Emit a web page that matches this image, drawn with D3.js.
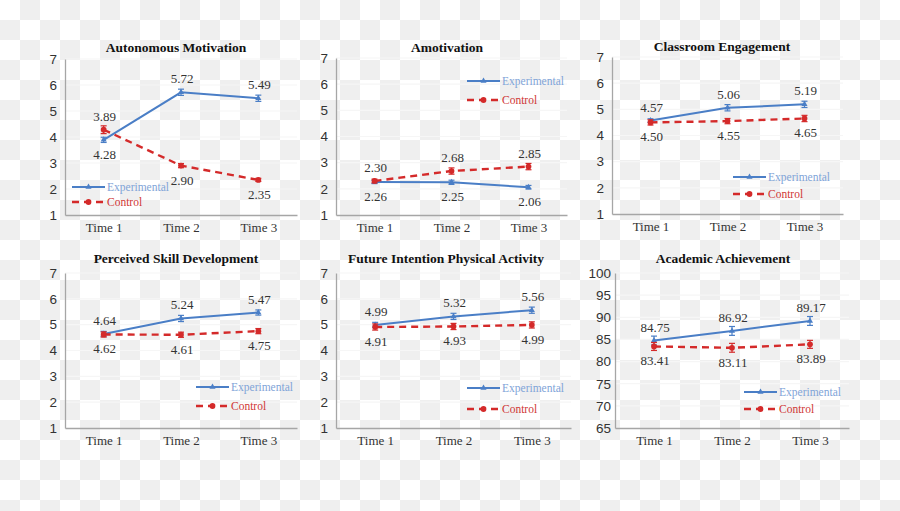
<!DOCTYPE html>
<html><head><meta charset="utf-8">
<script src="https://cdn.jsdelivr.net/npm/d3@7/dist/d3.min.js"></script>
<style>html,body{margin:0;padding:0;background:#fff;}svg{display:block;}</style>
</head><body>
<svg id="chart" width="900" height="511"></svg>
<script>
// ---------- DATA ----------
const times = ["Time 1", "Time 2", "Time 3"];
const seriesNames = ["Experimental", "Control"];
const titles = ["Autonomous Motivation", "Amotivation", "Classroom Engagement",
  "Perceived Skill Development", "Future Intention Physical Activity", "Academic Achievement"];
const experimental = [
  [3.89, 5.72, 5.49],
  [2.26, 2.25, 2.06],
  [4.57, 5.06, 5.19],
  [4.64, 5.24, 5.47],
  [4.99, 5.32, 5.56],
  [84.75, 86.92, 89.17]
];
const control = [
  [4.28, 2.90, 2.35],
  [2.30, 2.68, 2.85],
  [4.50, 4.55, 4.65],
  [4.62, 4.61, 4.75],
  [4.91, 4.93, 4.99],
  [83.41, 83.11, 83.89]
];
const experimentalErr = [
  [0.10, 0.12, 0.12],
  [0.06, 0.08, 0.07],
  [0.07, 0.12, 0.12],
  [0.10, 0.12, 0.10],
  [0.10, 0.12, 0.12],
  [1.0, 1.0, 1.0]
];
const controlErr = [
  [0.15, 0.08, 0.06],
  [0.07, 0.12, 0.12],
  [0.10, 0.10, 0.12],
  [0.10, 0.10, 0.10],
  [0.12, 0.12, 0.12],
  [0.9, 1.0, 0.9]
];
const yDomains = [[1, 7], [1, 7], [1, 7], [1, 7], [1, 7], [65, 100]];
const yTicks = [
  [1, 2, 3, 4, 5, 6, 7], [1, 2, 3, 4, 5, 6, 7], [1, 2, 3, 4, 5, 6, 7],
  [1, 2, 3, 4, 5, 6, 7], [1, 2, 3, 4, 5, 6, 7], [65, 70, 75, 80, 85, 90, 95, 100]
];
// which series' label sits on top at each time point (as printed in the original)
const topLabelSeries = ["Experimental", "Control", "Experimental", "Experimental", "Experimental", "Experimental"];

// ---------- LAYOUT (pixel positions) ----------
const layout = [
  {x0: 65, x1: 297, yT: 59, yB: 215, tx: 176, ty: 52, lx: 72, ly1: 187, ly2: 202, gap: 8},
  {x0: 336, x1: 567, yT: 58, yB: 215, tx: 447, ty: 52, lx: 467, ly1: 81, ly2: 100, gap: 8},
  {x0: 612, x1: 843, yT: 57, yB: 214, tx: 722, ty: 51, lx: 733, ly1: 177, ly2: 194, gap: 8},
  {x0: 65, x1: 297, yT: 273, yB: 428, tx: 176, ty: 263, lx: 196, ly1: 387, ly2: 406, gap: 8},
  {x0: 336, x1: 571, yT: 273, yB: 428, tx: 446, ty: 263, lx: 467, ly1: 388, ly2: 409, gap: 8},
  {x0: 615, x1: 849, yT: 273, yB: 428, tx: 723, ty: 263, lx: 744, ly1: 392, ly2: 409, gap: 4}
];

const blue = "#4a7ec6", blueText = "#7fa4d8";
const red = "#d42a2a", redText = "#d03636";
const serif = "'Liberation Serif','Times New Roman',serif";
const sans = "'Liberation Sans',Arial,sans-serif";

const svg = d3.select("#chart");

// checkerboard background (transparent-image look)
const defs = svg.append("defs");
const pat = defs.append("pattern").attr("id", "chk").attr("width", 40).attr("height", 40)
  .attr("patternUnits", "userSpaceOnUse");
pat.append("rect").attr("width", 40).attr("height", 40).attr("fill", "#ffffff");
pat.append("rect").attr("x", 20).attr("y", 0).attr("width", 20).attr("height", 20).attr("fill", "#efefef");
pat.append("rect").attr("x", 0).attr("y", 20).attr("width", 20).attr("height", 20).attr("fill", "#efefef");
svg.append("rect").attr("width", 900).attr("height", 511).attr("fill", "url(#chk)");

const triangle = d3.symbol().type(d3.symbolTriangle).size(16);
const circle = d3.symbol().type(d3.symbolCircle).size(26);

titles.forEach((title, i) => {
  const L = layout[i];
  const g = svg.append("g");
  const x = d3.scalePoint().domain(times).range([L.x0, L.x1]).padding(0.5);
  const y = d3.scaleLinear().domain(yDomains[i]).range([L.yB, L.yT]);

  // gridlines
  g.selectAll(".grid").data(yTicks[i].slice(1)).join("line")
    .attr("x1", L.x0).attr("x2", L.x1)
    .attr("y1", d => y(d)).attr("y2", d => y(d))
    .attr("stroke", "#f6f6f6").attr("stroke-width", 1.2);

  // y axis
  const ya = g.append("g").attr("transform", `translate(${L.x0},0)`)
    .call(d3.axisLeft(y).tickValues(yTicks[i]).tickSize(0).tickPadding(L.gap).tickFormat(d3.format("d")));
  ya.select(".domain").attr("stroke", "#a6a6a6").attr("stroke-width", 1.3);
  ya.selectAll("text").attr("font-family", sans).attr("font-size", 13.5).attr("fill", "#333");

  // x axis
  const xa = g.append("g").attr("transform", `translate(0,${L.yB})`)
    .call(d3.axisBottom(x).tickSize(0).tickPadding(8));
  xa.select(".domain").attr("stroke", "#a6a6a6").attr("stroke-width", 1.3);
  xa.selectAll("text").attr("font-family", serif).attr("font-size", 13).attr("fill", "#333");

  // title
  g.append("text").attr("x", L.tx).attr("y", L.ty).attr("text-anchor", "middle")
    .attr("font-family", serif).attr("font-weight", "bold").attr("font-size", 13.5)
    .attr("fill", "#111").text(title);

  const series = [
    {name: "Experimental", vals: experimental[i], err: experimentalErr[i], color: blue, dash: null, sym: triangle},
    {name: "Control", vals: control[i], err: controlErr[i], color: red, dash: "7,5", sym: circle}
  ];

  const line = d3.line().x((d, k) => x(times[k])).y(d => y(d));
  series.forEach(s => {
    g.append("path").datum(s.vals).attr("d", line).attr("fill", "none")
      .attr("stroke", s.color).attr("stroke-width", s.dash ? 2.4 : 2)
      .attr("stroke-dasharray", s.dash);
    const eb = g.append("g");
    s.vals.forEach((v, k) => {
      const cx = x(times[k]);
      const e = s.err[k];
      eb.append("line").attr("x1", cx).attr("x2", cx).attr("y1", y(v - e)).attr("y2", y(v + e))
        .attr("stroke", s.color).attr("stroke-width", 1.2);
      [v - e, v + e].forEach(c => eb.append("line").attr("x1", cx - 3).attr("x2", cx + 3)
        .attr("y1", y(c)).attr("y2", y(c)).attr("stroke", s.color).attr("stroke-width", 1.2));
      eb.append("path").attr("d", s.sym).attr("transform", `translate(${cx},${y(v)})`)
        .attr("fill", s.color);
    });
  });

  // value labels
  times.forEach((t, k) => {
    const ev = experimental[i][k], cv = control[i][k];
    const topVal = topLabelSeries[i] === "Experimental" ? ev : cv;
    const botVal = topLabelSeries[i] === "Experimental" ? cv : ev;
    const hi = Math.max(ev, cv), lo = Math.min(ev, cv);
    const fmt = d3.format(".2f");
    g.append("text").attr("x", x(t) + 1).attr("y", y(hi) - 9).attr("text-anchor", "middle")
      .attr("font-family", serif).attr("font-size", 13).attr("fill", "#333").text(fmt(topVal));
    g.append("text").attr("x", x(t) + 1).attr("y", y(lo) + 19).attr("text-anchor", "middle")
      .attr("font-family", serif).attr("font-size", 13).attr("fill", "#333").text(fmt(botVal));
  });

  // legend
  const leg = g.append("g");
  [[seriesNames[0], L.ly1, blue, blueText, null, triangle], [seriesNames[1], L.ly2, red, redText, "7,5", circle]]
    .forEach(([name, ly, c, tc, dash, sym]) => {
      leg.append("line").attr("x1", L.lx).attr("x2", L.lx + 33).attr("y1", ly).attr("y2", ly)
        .attr("stroke", c).attr("stroke-width", dash ? 2.4 : 2).attr("stroke-dasharray", dash);
      leg.append("path").attr("d", sym).attr("transform", `translate(${L.lx + 16.5},${ly})`).attr("fill", c);
      leg.append("text").attr("x", L.lx + 35).attr("y", ly + 4).attr("font-family", serif)
        .attr("font-size", 11.5).attr("fill", tc).text(name);
    });
});
</script>
</body></html>
